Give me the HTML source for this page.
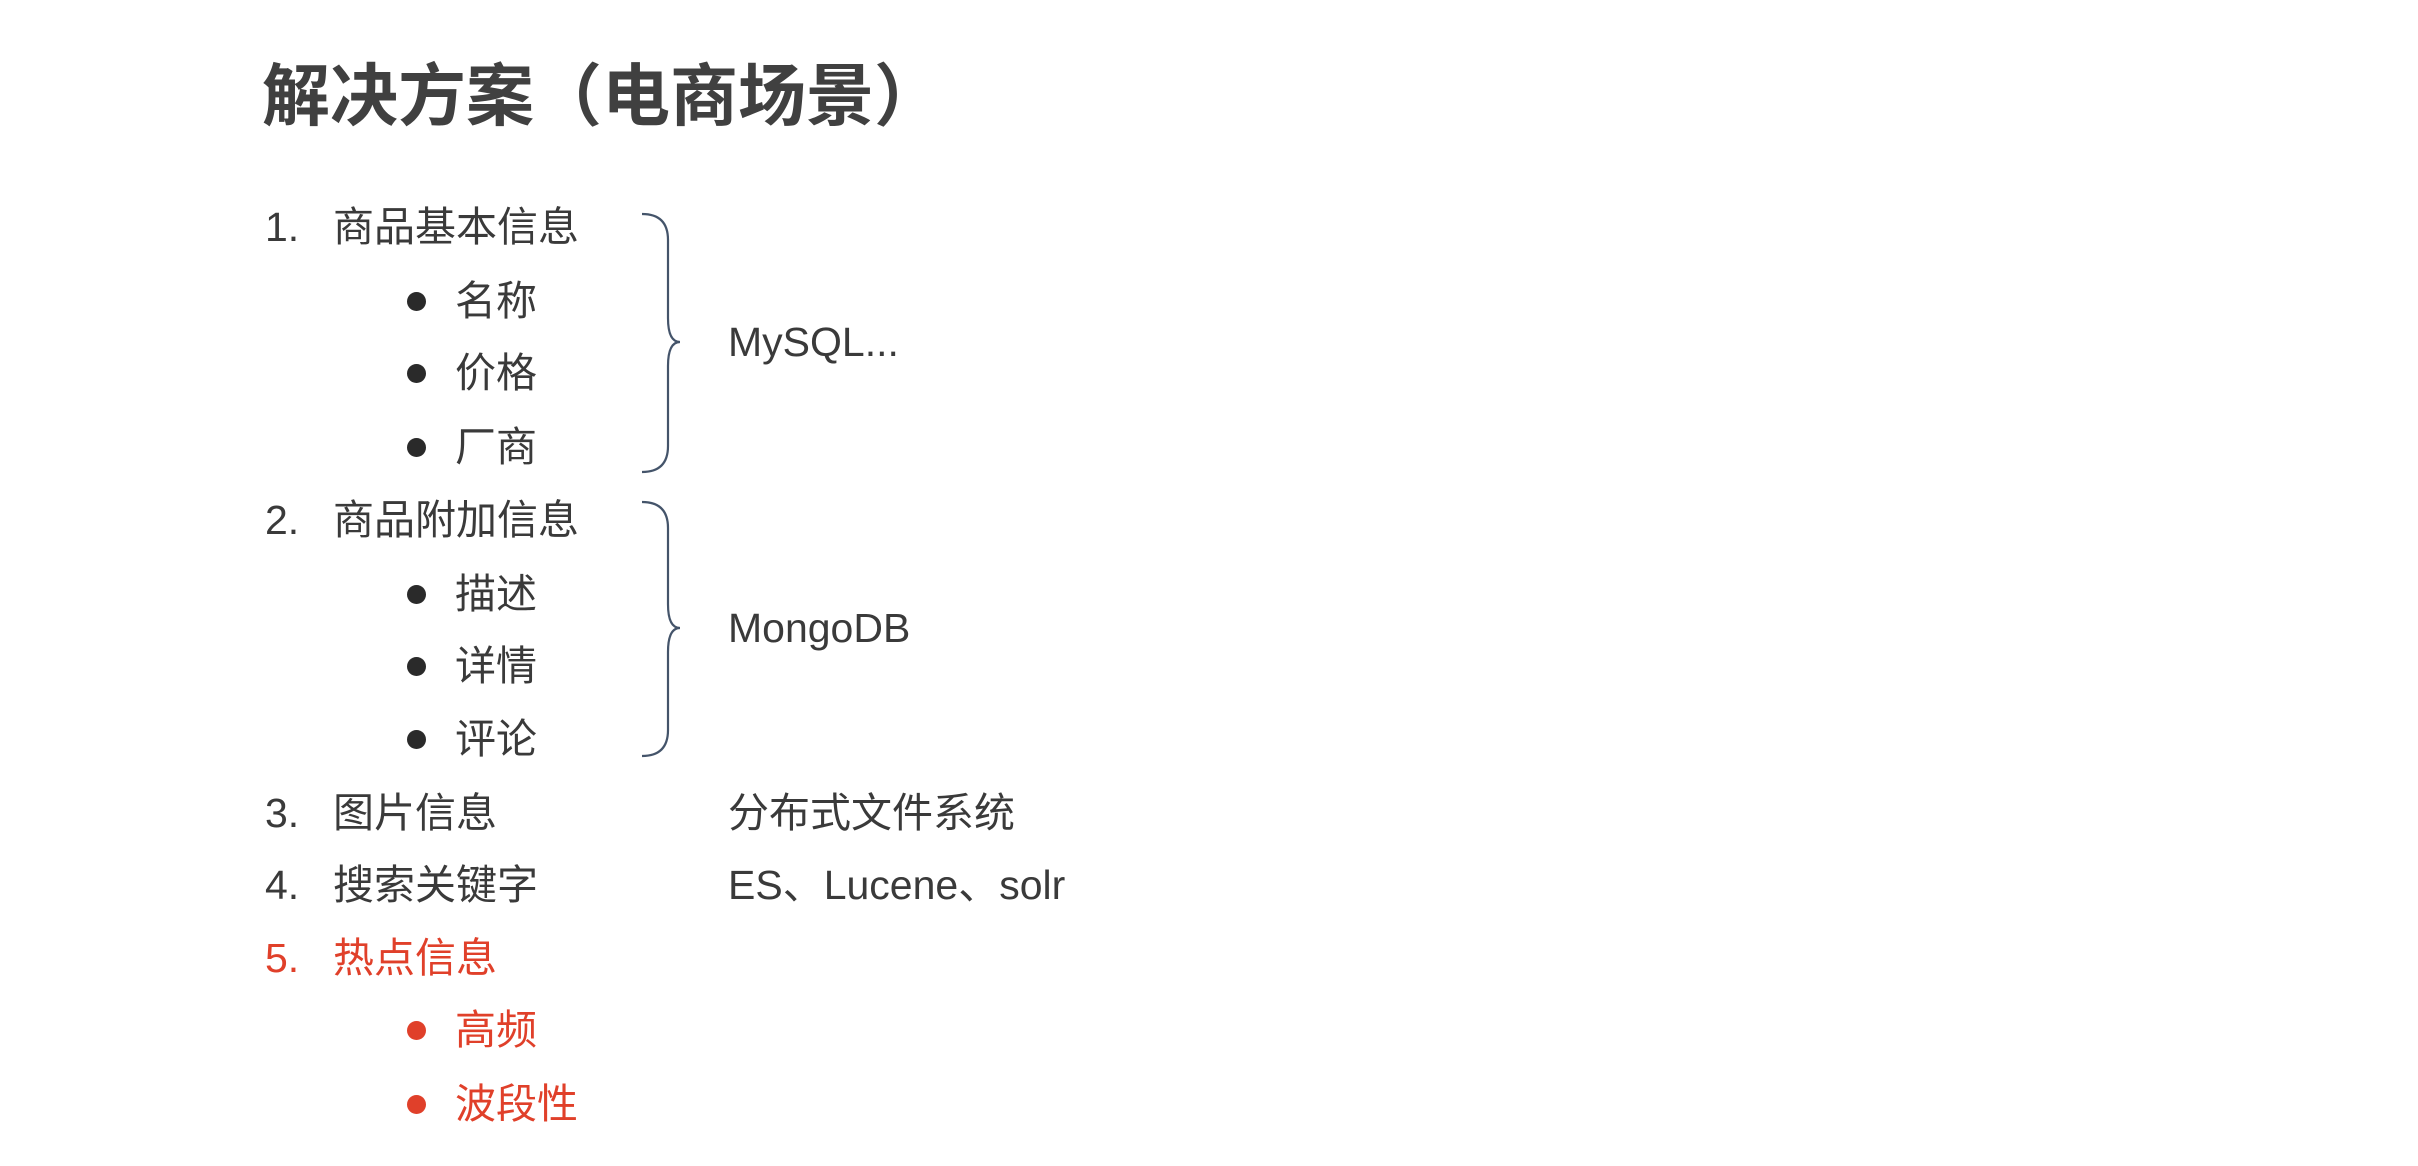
<!DOCTYPE html>
<html><head><meta charset="utf-8"><style>
html,body{margin:0;padding:0;background:#fff;}
body{width:2418px;height:1166px;position:relative;overflow:hidden;font-family:"Liberation Sans","Noto Sans CJK SC",sans-serif;color:#3a3a3a;}
.t{position:absolute;font-size:41px;line-height:60px;height:60px;white-space:nowrap;}
.title{position:absolute;left:262px;top:56px;font-size:68px;line-height:82px;font-weight:bold;color:#404040;white-space:nowrap;}
.dot{position:absolute;width:19px;height:19px;border-radius:50%;background:#2a2a2a;}
.red{color:#e0402a;}
.dot.red{background:#e0402a;}
</style></head><body>
<div class="title">解决方案（电商场景）</div>

<div class="t" style="left:265px;top:197px">1.</div><div class="t" style="left:333px;top:197px">商品基本信息</div>
<div class="dot" style="left:407px;top:292px"></div><div class="t" style="left:455px;top:271px">名称</div>
<div class="dot" style="left:407px;top:364px"></div><div class="t" style="left:455px;top:343px">价格</div>
<div class="dot" style="left:407px;top:438px"></div><div class="t" style="left:455px;top:417px">厂商</div>

<div class="t" style="left:265px;top:490px">2.</div><div class="t" style="left:333px;top:490px">商品附加信息</div>
<div class="dot" style="left:407px;top:585px"></div><div class="t" style="left:455px;top:564px">描述</div>
<div class="dot" style="left:407px;top:657px"></div><div class="t" style="left:455px;top:636px">详情</div>
<div class="dot" style="left:407px;top:730px"></div><div class="t" style="left:455px;top:709px">评论</div>

<div class="t" style="left:265px;top:783px">3.</div><div class="t" style="left:333px;top:783px">图片信息</div>
<div class="t" style="left:265px;top:855px">4.</div><div class="t" style="left:333px;top:855px">搜索关键字</div>
<div class="t red" style="left:265px;top:928px">5.</div><div class="t red" style="left:333px;top:928px">热点信息</div>
<div class="dot red" style="left:407px;top:1021px"></div><div class="t red" style="left:455px;top:1000px">高频</div>
<div class="dot red" style="left:407px;top:1095px"></div><div class="t red" style="left:455px;top:1074px">波段性</div>

<div class="t" style="left:728px;top:312px">MySQL...</div>
<div class="t" style="left:728px;top:598px">MongoDB</div>
<div class="t" style="left:728px;top:783px">分布式文件系统</div>
<div class="t" style="left:728px;top:855px">ES、Lucene、solr</div>

<svg width="2418" height="1166" style="position:absolute;left:0;top:0" fill="none" stroke="#44546a" stroke-width="2.2">
<path d="M642 214 Q668 214 668 240 L668 318 Q668 342 680 342 Q668 342 668 366 L668 446 Q668 472 642 472"/>
<path d="M642 502 Q668 502 668 528 L668 604 Q668 628 680 628 Q668 628 668 652 L668 730 Q668 756 642 756"/>
</svg>
</body></html>
